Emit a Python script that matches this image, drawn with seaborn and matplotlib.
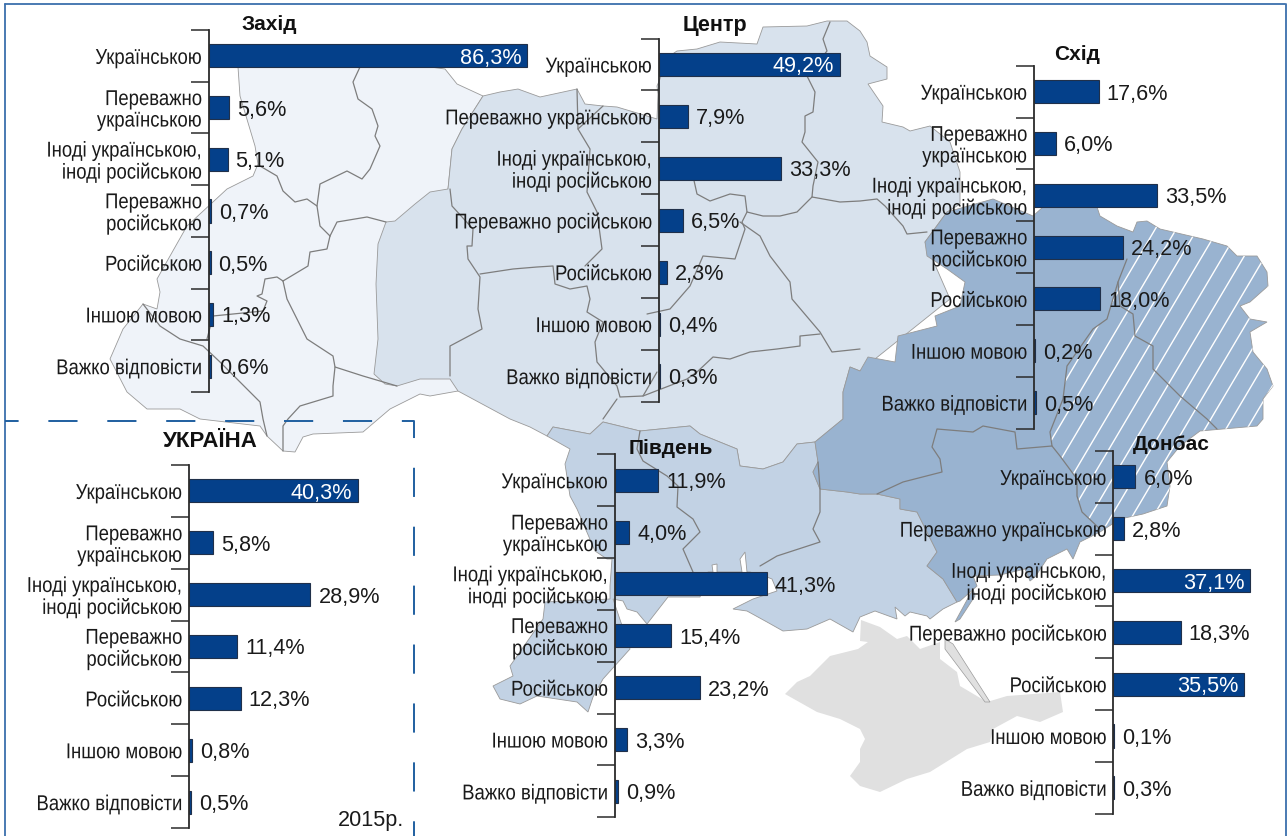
"""
Мова спілкування за регіонами, 2015
"""

#Packages:
import matplotlib
matplotlib.use('Agg')
import matplotlib.pyplot as plt
from matplotlib.patches import Polygon
from matplotlib.patheffects import AbstractPathEffect
from matplotlib.transforms import Affine2D
import numpy as np
import pandas as pd
import seaborn as sns

#-----------------------------------
#Data:
labels_two = ['Українською', 'Переважно\nукраїнською', 'Іноді українською,\nіноді російською',
              'Переважно\nросійською', 'Російською', 'Іншою мовою', 'Важко відповісти']
labels_one = ['Українською', 'Переважно українською', 'Іноді українською,\nіноді російською',
              'Переважно російською', 'Російською', 'Іншою мовою', 'Важко відповісти']

zakhid = [86.3, 5.6, 5.1, 0.7, 0.5, 1.3, 0.6]
tsentr = [49.2, 7.9, 33.3, 6.5, 2.3, 0.4, 0.3]
skhid = [17.6, 6.0, 33.5, 24.2, 18.0, 0.2, 0.5]
ukraina = [40.3, 5.8, 28.9, 11.4, 12.3, 0.8, 0.5]
pivden = [11.9, 4.0, 41.3, 15.4, 23.2, 3.3, 0.9]
donbas = [6.0, 2.8, 37.1, 18.3, 35.5, 0.1, 0.3]

#-----------------------------------
#Map outlines (backdrop, in image pixels):
west_shape = [(238,68),(430,68),(445,70),(457,85),(483,97),(462,130),(452,150),(448,190),(448,300),(458,392),
              (430,397),(420,395),(390,410),(363,433),(313,435),(303,438),(295,453),(283,452),(267,437),(260,427),
              (200,420),(180,410),(147,410),(127,393),(110,360),(123,330),(143,305),(157,310),(160,293),(157,280),
              (187,227),(227,190),(253,177),(258,165),(255,147),(240,97)]
center_shape = [(448,190),(452,150),(462,130),(483,97),(500,93),(518,90),(540,98),(577,90),(585,105),(603,107),
                (617,108),(657,120),(658,95),(657,87),(660,80),(665,60),(677,52),(697,50),(720,43),(757,45),
                (763,28),(807,27),(827,22),(847,22),(860,32),(867,43),(870,57),(887,68),(887,80),(868,85),
                (883,107),(882,123),(903,128),(910,132),(930,127),(950,143),(960,173),(960,205),(947,213),(925,243),
                (950,300),(900,340),(860,372),(850,368),(843,393),(843,420),(815,443),(797,445),(783,463),(763,470),
                (740,467),(737,450),(700,435),(690,427),(640,432),(603,423),(590,435),(553,428),(547,437),(530,428),
                (510,420),(497,413),(458,392),(450,380),(420,380),(397,387),(385,385),(374,375),(378,340),(376,285),
                (378,245),(386,223),(395,222),(415,205),(430,193)]
south_shape = [(547,437),(553,428),(590,435),(603,423),(640,432),(690,427),(700,435),(737,450),(740,467),(763,470),
               (783,463),(797,445),(815,443),(818,463),(813,473),(820,490),(847,493),(860,495),(877,495),(900,500),
               (900,510),(917,513),(937,553),(927,567),(943,580),(957,603),(943,610),(930,620),(927,617),(910,613),
               (905,617),(895,608),(897,620),(875,612),(860,618),(853,633),(830,620),(807,630),(783,632),(767,623),
               (747,612),(733,610),(753,600),(777,592),(772,580),(767,578),(750,573),(747,573),(745,553),(740,560),
               (742,573),(717,573),(717,565),(712,566),(713,573),(708,573),(700,598),(668,598),(647,625),(637,613),
               (627,610),(623,602),(613,600),(630,650),(603,680),(593,698),(588,713),(577,703),(537,697),(520,705),
               (500,700),(493,687),(513,677),(510,667),(543,620),(545,603),(610,600),(610,587),(612,560),(607,560),
               (595,552),(577,510),(570,497),(565,465),(570,450)]
east_shape = [(947,213),(993,200),(1033,217),(1043,208),(1097,208),(1100,217),(1117,227),(1133,233),(1137,223),(1147,222),
              (1160,230),(1203,240),(1227,247),(1237,257),(1257,257),(1267,273),(1268,287),(1250,303),(1240,307),(1250,320),
              (1267,323),(1250,333),(1253,353),(1267,370),(1273,387),(1263,400),(1263,420),(1257,427),(1200,432),(1180,447),
              (1167,463),(1170,487),(1167,507),(1143,515),(1120,520),(1100,533),(1080,543),(1073,560),(1067,550),(1047,560),
              (1035,578),(1030,582),(1025,570),(1000,576),(973,577),(977,587),(960,602),(957,603),(943,580),(927,567),
              (937,553),(917,513),(900,510),(900,500),(877,495),(860,495),(847,493),(820,490),(813,473),(818,463),
              (815,443),(843,420),(843,393),(850,368),(860,372),(868,358),(895,363),(898,337),(937,327),(935,317),
              (960,307),(965,283),(947,270),(927,257),(925,243)]
spit_shape = [(955,623),(960,620),(975,597),(973,590)]
hatch_shape = [(1133,233),(1137,223),(1147,222),(1160,230),(1203,240),(1227,247),(1237,257),(1257,257),(1267,273),(1268,287),
               (1250,303),(1240,307),(1250,320),(1267,323),(1250,333),(1253,353),(1267,370),(1273,387),(1263,400),(1263,420),
               (1257,427),(1200,432),(1180,447),(1167,463),(1170,487),(1167,507),(1143,515),(1120,520),(1100,530),(1082,513),
               (1077,497),(1077,480),(1060,457),(1052,447),(1050,433),(1063,400),(1067,367),(1093,330),(1107,320),(1118,283),
               (1127,260)]
crimea_shape = [(785,695),(797,683),(810,677),(830,657),(858,650),(868,643),(860,642),(861,621),(880,628),(897,640),
                (907,637),(920,650),(940,643),(940,660),(957,673),(960,687),(987,703),(1007,697),(1060,693),(1063,713),
                (1040,723),(1017,717),(993,730),(990,743),(967,750),(930,773),(907,780),(880,793),(860,787),(850,777),
                (860,763),(860,750),(865,740),(860,730),(840,720),(817,713)]
arabat_shape = [(945,640),(953,645),(990,703),(985,703),(945,650)]

borders = [
    [(360,68),(353,83),(358,100),(372,110),(378,127),(375,137),(380,147),(370,170),(362,180),(347,172),(320,185),(317,207),(320,227),(330,237)],
    [(260,167),(277,177),(283,192),(295,203),(307,200),(317,207)],
    [(330,237),(337,223),(367,218),(386,223)],
    [(330,237),(327,250),(310,253),(308,267),(283,282)],
    [(283,282),(277,278),(265,280),(262,295),(257,297),(267,302),(263,312),(213,317),(207,340)],
    [(283,282),(287,300),(297,320),(307,340),(333,357),(335,368),(333,387),(333,397),(300,407),(288,420),(283,427),(283,452)],
    [(335,368),(363,377),(397,387)],
    [(143,305),(160,327),(180,340),(203,347),(220,363),(240,383),(260,403),(263,420),(267,437)],
    [(450,190),(452,207),(473,230),(472,247),(467,247),(468,260),(480,278),(478,310),(482,330),(450,347),(450,377)],
    [(480,275),(513,270),(537,268),(553,267),(555,285),(570,290),(587,287),(590,300),(587,313),(603,323),(595,343),(597,363),(617,387),(620,398),(643,397),(657,373)],
    [(577,90),(578,130),(590,150),(587,193),(597,213),(602,250),(585,267)],
    [(578,130),(603,107)],
    [(830,23),(823,40),(827,52),(807,77),(815,93),(813,113),(805,117),(805,133),(802,143),(818,163),(813,187),(812,198),(840,203),(860,202),(877,200),(885,207),(903,227),(907,235),(927,233)],
    [(812,198),(797,213),(780,217),(763,217),(747,213),(745,197),(730,195),(710,202),(697,195),(693,177)],
    [(747,213),(742,223),(745,230),(735,260),(703,257),(690,287),(670,310),(647,315)],
    [(740,223),(760,237),(770,257),(790,283),(792,300),(820,333),(832,353),(860,350)],
    [(820,335),(800,337),(800,347),(777,350),(750,353),(730,360),(713,358),(697,373),(687,380),(643,397)],
    [(603,420),(617,400)],
    [(640,432),(637,450),(643,462),(667,477),(678,487),(677,508),(693,520),(700,533),(683,550),(693,573)],
    [(818,463),(820,490),(820,513),(813,530),(820,543),(777,557),(760,567)],
    [(1127,260),(1118,283),(1120,307),(1133,315),(1135,337),(1153,347),(1153,370),(1180,397),(1207,420),(1217,430)],
    [(1118,283),(1107,320),(1093,330),(1067,367),(1063,400),(1050,433),(1052,447),(1017,450),(1015,433),(983,427),(973,433),(937,430),(932,448),(940,460),(942,473),(903,483),(877,495)],
    [(1052,447),(1060,457),(1077,480),(1077,497),(1082,513),(1100,530)],
]

#-----------------------------------
#Functions:
class Narrow(AbstractPathEffect):
    # squeezes each text line sideways, keeping its right end in place
    def __init__(self, factor):
        super().__init__()
        self.factor = factor

    def draw_path(self, renderer, gc, tpath, affine, rgbFace=None):
        right = tpath.get_extents().x1
        squeeze = Affine2D().translate(-right, 0).scale(self.factor, 1).translate(right, 0)
        renderer.draw_path(gc, tpath, squeeze + affine, rgbFace)

def value_text(value):
    return f'{value:.1f}%'.replace('.', ',')

def panel(fig, data, labels, spine_x, top, bottom, px_per_unit, inside=()):
    width = 100 * px_per_unit
    ax = fig.add_axes([spine_x / W, 1 - bottom / H, width / W, (bottom - top) / H])
    ax.patch.set_alpha(0)
    df = pd.DataFrame({'label': labels, 'value': data})
    sns.barplot(data=df, x='value', y='label', orient='h', ax=ax, color=BAR, saturation=1,
                width=0.445, edgecolor='#20304a', linewidth=0.8)
    ax.set_xlim(0, 100)
    ax.set_ylim(6.5, -0.5)
    ax.set_xlabel('')
    ax.set_ylabel('')
    ax.xaxis.set_visible(False)
    for side in ['top', 'right', 'bottom']:
        ax.spines[side].set_visible(False)
    ax.spines['left'].set_color('#2b2b2b')
    ax.spines['left'].set_linewidth(1.3)
    # long ticks between the categories, none on the labels
    ax.set_yticks(np.arange(-0.5, 7), minor=True)
    ax.tick_params(axis='y', which='minor', left=True, length=13, width=1.1, color='#2b2b2b')
    ax.tick_params(axis='y', which='major', left=False, length=0, pad=5)
    for tick in ax.get_yticklabels():
        tick.set_fontsize(LABEL_SIZE)
        tick.set_color('#1a1a1a')
        tick.set_linespacing(1.03)
        tick.set_path_effects([Narrow(0.86)])
    for i, value in enumerate(data):
        if i in inside:
            ax.annotate(value_text(value), (value, i), xytext=(-6, -1.5), textcoords='offset pixels',
                        ha='right', va='center', color='white', fontsize=VALUE_SIZE)
        else:
            ax.annotate(value_text(value), (value, i), xytext=(8, -1.5), textcoords='offset pixels',
                        ha='left', va='center', color='#1a1a1a', fontsize=VALUE_SIZE)
    return ax

#-----------------------------------
#Figure:
W, H = 1287, 837
BAR = '#04408A'
LABEL_SIZE = 15.5
VALUE_SIZE = 15.6

sns.set_theme(style='white')
plt.rcParams['font.family'] = ['Liberation Sans', 'DejaVu Sans']

fig = plt.figure(figsize=(W / 100, H / 100), dpi=100, facecolor='white')

bg = fig.add_axes([0, 0, 1, 1], zorder=0)
bg.set_xlim(0, W)
bg.set_ylim(H, 0)
bg.axis('off')

line_grey = '#7d7d7d'
for shape, colour in [(west_shape, '#EFF3F9'), (center_shape, '#D8E2ED'), (south_shape, '#C2D2E4'),
                      (east_shape, '#99B3D0'), (spit_shape, '#99B3D0')]:
    bg.add_patch(Polygon(shape, closed=True, facecolor=colour, edgecolor='#9a9a9a', linewidth=0.6))
bg.add_patch(Polygon(crimea_shape, closed=True, facecolor='#E0E0E0', edgecolor='none'))
bg.add_patch(Polygon(arabat_shape, closed=True, facecolor='#E0E0E0', edgecolor='#9a9a9a', linewidth=0.5))

clip = Polygon(hatch_shape, closed=True, facecolor='none', edgecolor='none')
bg.add_patch(clip)
for x0 in np.arange(960, 1400, 21):
    hatch_line, = bg.plot([x0, x0 + 200], [560, 222], color='white', linewidth=1.0)
    hatch_line.set_clip_path(clip)

for line in borders:
    xs, ys = zip(*line)
    bg.plot(xs, ys, color=line_grey, linewidth=0.9)

# frame and the dashed box of the national panel
bg.plot([4.5, 4.5], [H, 4.5], color='#3B6FAD', linewidth=1.3)
bg.plot([4.5, W - 2], [4.5, 4.5], color='#3B6FAD', linewidth=1.3)
bg.plot([W - 1.5, W - 1.5], [4.5, H], color='#3B6FAD', linewidth=1.3)
bg.plot([4.5, 414, 414], [422, 422, H], color='#1F5FA0', linewidth=1.4, linestyle=(8, (15, 15.3)))

panel(fig, zakhid, labels_two, 208.7, 31, 393, 3.69, inside=(0,))
panel(fig, tsentr, labels_one, 658.7, 39.5, 403, 3.68, inside=(0,))
panel(fig, skhid, labels_two, 1034, 66.7, 429.5, 3.68)
panel(fig, ukraina, labels_two, 189, 466, 829, 4.2, inside=(0,))
panel(fig, pivden, labels_two, 614.7, 455.3, 818.3, 3.68)
panel(fig, donbas, labels_one, 1113.3, 452, 814.7, 3.69, inside=(2, 4))

for name, x, y, size in [('Захід', 269, 24, 15), ('Центр', 715, 25, 15.5), ('Схід', 1077, 54, 15),
                         ('УКРАЇНА', 210, 442, 16), ('Південь', 671, 449, 15), ('Донбас', 1171, 445, 15)]:
    fig.text(x / W, 1 - y / H, name, ha='center', va='center', fontweight='bold', fontsize=size, color='#111111', zorder=5)
fig.text(404 / W, 1 - 821 / H, '2015р.', ha='right', va='center', fontsize=15.6, color='#1a1a1a', zorder=5)

fig.savefig('out.png', dpi=100)
